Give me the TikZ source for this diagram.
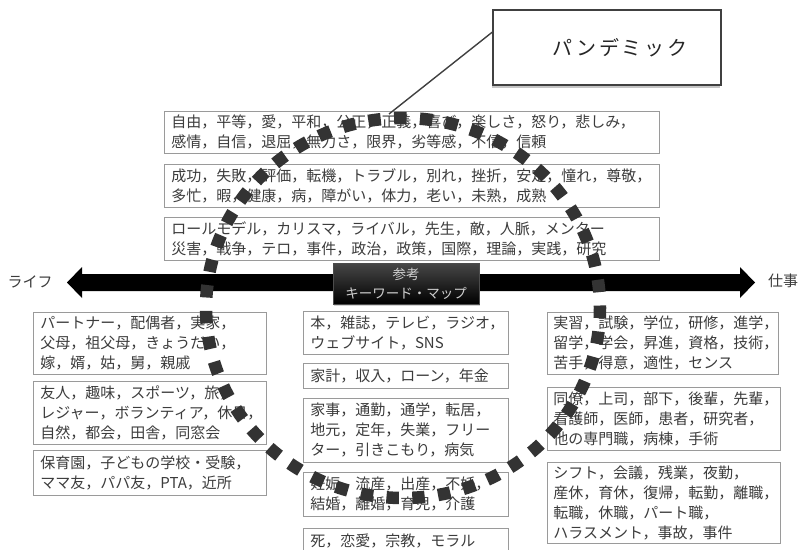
\documentclass[tikz,border=0pt]{standalone}
\usepackage{fontspec}
\newfontfamily\jp{Noto Sans CJK JP}
\newfontfamily\jpwide[LetterSpace=14]{Noto Sans CJK JP}
\usetikzlibrary{shadows}
\definecolor{txtgray}{HTML}{3C3C3C}
\definecolor{boxgray}{HTML}{9A9A9A}
\definecolor{dotgray}{HTML}{333333}
\hfuzz=200pt
\hbadness=10000
\begin{document}
\begin{tikzpicture}[x=1pt,y=-1pt,
  kbox/.style={draw=boxgray, line width=0.9pt, fill=white, anchor=north west,
    inner xsep=7pt, inner ysep=0pt, align=left, text=txtgray,
    font=\jp\fontsize{15}{20}\selectfont},
  sidelabel/.style={text=txtgray, font=\jp\fontsize{15}{18}\selectfont, inner sep=0pt},
  keymap/.style={draw=black!70, line width=0.6pt, top color=black!72, bottom color=black,
    minimum width=146pt, minimum height=41pt, inner sep=0pt, align=center,
    text=black!18, font=\jp\fontsize{13.5}{19}\selectfont,
    drop shadow={shadow xshift=1pt, shadow yshift=-1.5pt, fill=black!35}},
  calloutbox/.style={draw=black!75, line width=1.6pt, fill=white,
    minimum width=228pt, minimum height=75pt, inner sep=0pt,
    text=black!85, font=\jpwide\fontsize{20}{24}\selectfont,
    drop shadow={shadow xshift=-1.5pt, shadow yshift=-2.5pt, fill=black!45}},
  pointer/.style={draw=black!75, line width=1.4pt},
  dotloop/.style={draw=dotgray, line width=12.5pt, dash pattern=on 12.5pt off 13.37pt, dash phase=10pt},
]
\useasboundingbox (0,0) rectangle (803,549);
\clip (0,0) rectangle (803,549);
\fill[white] (0,0) rectangle (803,549);

% top boxes
\node[kbox, text width=481pt, minimum height=42pt] (t1) at (164,111)
  {自由，平等，愛，平和，公正，正義，喜び，楽しさ，怒り，悲しみ，\\感情，自信，退屈，無力さ，限界，劣等感，不信，信頼};
\node[kbox, text width=481pt, minimum height=43pt] (t2) at (164,164)
  {成功，失敗，評価，転機，トラブル，別れ，挫折，安定，憧れ，尊敬，\\多忙，暇，健康，病，障がい，体力，老い，未熟，成熟};
\node[kbox, text width=481pt, minimum height=43pt] (t3) at (164,217)
  {ロールモデル，カリスマ，ライバル，先生，敵，人脈，メンター\\災害，戦争，テロ，事件，政治，政策，国際，理論，実践，研究};

% left boxes
\node[kbox, text width=219pt, minimum height=62pt] (l1) at (33,312)
  {パートナー，配偶者，実家，\\父母，祖父母，きょうだい，\\嫁，婿，姑，舅，親戚};
\node[kbox, text width=219pt, minimum height=63pt] (l2) at (33,381)
  {友人，趣味，スポーツ，旅，\\レジャー，ボランティア，休日，\\自然，都会，田舎，同窓会};
\node[kbox, text width=219pt, minimum height=45pt] (l3) at (33,450)
  {保育園，子どもの学校・受験，\\ママ友，パパ友，PTA，近所};

% middle boxes
\node[kbox, text width=191pt, minimum height=43pt] (m1) at (303,311)
  {本，雑誌，テレビ，ラジオ，\\ウェブサイト，SNS};
\node[kbox, text width=191pt, minimum height=25pt] (m2) at (303,363)
  {家計，収入，ローン，年金};
\node[kbox, text width=191pt, minimum height=64pt] (m3) at (303,398)
  {家事，通勤，通学，転居，\\地元，定年，失業，フリー\\ター，引きこもり，病気};
\node[kbox, text width=191pt, minimum height=44pt] (m4) at (303,472)
  {妊娠，流産，出産，不妊，\\結婚，離婚，育児，介護};
\node[kbox, text width=191pt, minimum height=44pt] (m5) at (303,528)
  {死，恋愛，宗教，モラル\\\phantom{死}};

% right boxes
\node[kbox, text width=219pt, inner xsep=6pt, minimum height=62pt] (r1) at (547,312)
  {実習，試験，学位，研修，進学，\\留学，学会，昇進，資格，技術，\\苦手，得意，適性，センス};
\node[kbox, text width=221pt, inner xsep=6pt, minimum height=63pt] (r2) at (547,387)
  {同僚，上司，部下，後輩，先輩，\\看護師，医師，患者，研究者，\\他の専門職，病棟，手術};
\node[kbox, text width=221pt, inner xsep=6pt, minimum height=81pt] (r3) at (547,462)
  {シフト，会議，残業，夜勤，\\産休，育休，復帰，転勤，離職，\\転職，休職，パート職，\\ハラスメント，事故，事件};

% double arrow
\fill[black] (67,282.5) -- (82,267) -- (82,274) -- (740,274) -- (740,267) -- (755,282.5)
  -- (740,298) -- (740,291) -- (82,291) -- (82,298) -- cycle;
\node[sidelabel] (life) at (30,282) {ライフ};
\node[sidelabel] (work) at (783,281) {仕事};

% key-map label
\node[keymap] (km) at (406,283.5) {参考\\キーワード・マップ};

% dotted loop
\draw[dotloop] (403,308) ellipse [x radius=197pt, y radius=190pt];

% callout
\node[calloutbox] (pand) at (607,47.5) {\hspace*{26pt}パンデミック};
\coordinate (looptop) at (389,114);
\draw[pointer] ([yshift=-23pt]pand.north west) -- (looptop);
\end{tikzpicture}
\end{document}
